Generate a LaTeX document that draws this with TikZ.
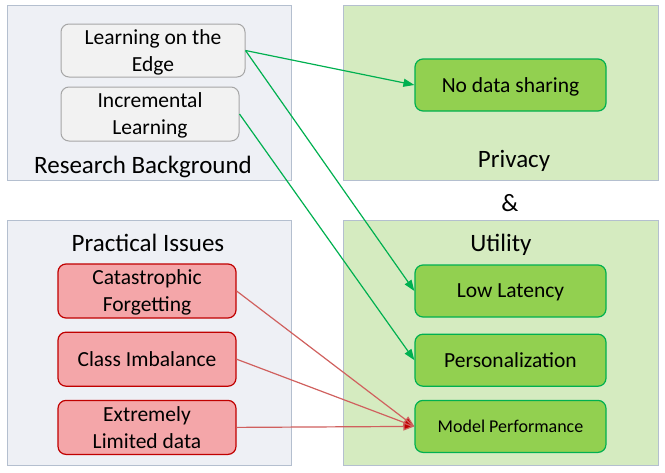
\documentclass[tikz,border=0pt]{standalone}
\usepackage{xcolor}
\usepackage{fontspec}
\setmainfont{Carlito}
\usepackage{tikz}
\usetikzlibrary{arrows.meta,
                positioning}
\definecolor{panelgray}{HTML}{EEF0F5}
\definecolor{panelgreen}{HTML}{D5EBC0}
\definecolor{panelline}{HTML}{B4BFCF}
\definecolor{boxgray}{HTML}{F2F2F2}
\definecolor{boxgrayline}{HTML}{A6A6A6}
\definecolor{boxred}{HTML}{F4A6A9}
\definecolor{boxredline}{HTML}{C00000}
\definecolor{boxgreen}{HTML}{92D050}
\definecolor{boxgreenline}{HTML}{00B050}
\definecolor{arrowred}{HTML}{D0605E}
\tikzstyle{panel} = [draw=panelline, line width=0.8pt, inner sep=0pt]
\tikzstyle{title} = [font=\fontsize{25}{28}\selectfont]
\tikzstyle{bgbox} = [draw=boxgrayline, fill=boxgray, line width=1pt, rounded corners=8pt, align=center, inner sep=0pt, text depth=0pt, font=\fontsize{21.5}{27}\selectfont]
\tikzstyle{issuebox} = [draw=boxredline, fill=boxred, line width=1.2pt, rounded corners=8pt, align=center, inner sep=0pt, text depth=0pt, minimum width=178pt, minimum height=54pt, font=\fontsize{21.5}{27}\selectfont]
\tikzstyle{goalbox} = [draw=boxgreenline, fill=boxgreen, line width=1.2pt, rounded corners=8pt, align=center, inner sep=0pt, text depth=0pt, minimum width=191pt, minimum height=52pt, font=\fontsize{21.5}{27}\selectfont]
\tikzstyle{greenarrow} = [boxgreenline, line width=1.2pt, -{Triangle[length=11pt,width=8pt]}]
\tikzstyle{redarrow} = [arrowred, line width=1.2pt, -{Triangle[length=11pt,width=8pt,fill=boxredline]}]

\begin{document}
\begin{tikzpicture}[x=1pt, y=-1pt]
    \useasboundingbox (0,0) rectangle (665,472);

    % panels
    \node[panel, fill=panelgray, minimum width=284pt, minimum height=175pt] (research) at (149,92.5) {};
    \node[panel, fill=panelgreen, minimum width=315pt, minimum height=175pt] (privacy) at (500.5,92.5) {};
    \node[panel, fill=panelgray, minimum width=284pt, minimum height=245pt] (practical) at (149,342.5) {};
    \node[panel, fill=panelgreen, minimum width=315pt, minimum height=245pt] (utility) at (500.5,342.5) {};

    \node[title] (researchlbl) at (143,167) {Research Background};
    \node[title] (privacylbl) at (514,161) {Privacy};
    \node[title] (andlbl) at (510,203) {\&};
    \node[title] (practicallbl) at (148,243) {Practical Issues};
    \node[title] (utilitylbl) at (501,245) {Utility};

    % research background
    \node[bgbox, minimum width=184pt, minimum height=53pt] (edge) at (153,50.5) {Learning on the\\Edge};
    \node[bgbox, minimum width=178pt, minimum height=54pt] (incr) at (150,114) {Incremental\\Learning};

    % practical issues
    \node[issuebox] (forget) at (147,291) {Catastrophic\\Forgetting};
    \node[issuebox] (imbal)[below= 13pt of forget] {Class Imbalance};
    \node[issuebox] (limited)[below= 13pt of imbal] {Extremely\\Limited data};

    % goals
    \node[goalbox] (nodata) at (510.5,85) {No data sharing};
    \node[goalbox] (latency) at (510.5,291) {Low Latency};
    \node[goalbox] (person)[below= 16pt of latency] {Personalization};
    \node[goalbox, font=\fontsize{18}{21}\selectfont] (perf)[below= 13pt of person] {Model Performance};

    \draw [greenarrow] (edge.east) -- (nodata.west);
    \draw [greenarrow] (edge.east) -- (latency.west);
    \draw [greenarrow] (incr.east) -- (person.west);
    \draw [redarrow] (forget.east) -- (perf.west);
    \draw [redarrow] (imbal.east) -- (perf.west);
    \draw [redarrow] (limited.east) -- (perf.west);
\end{tikzpicture}
\end{document}
